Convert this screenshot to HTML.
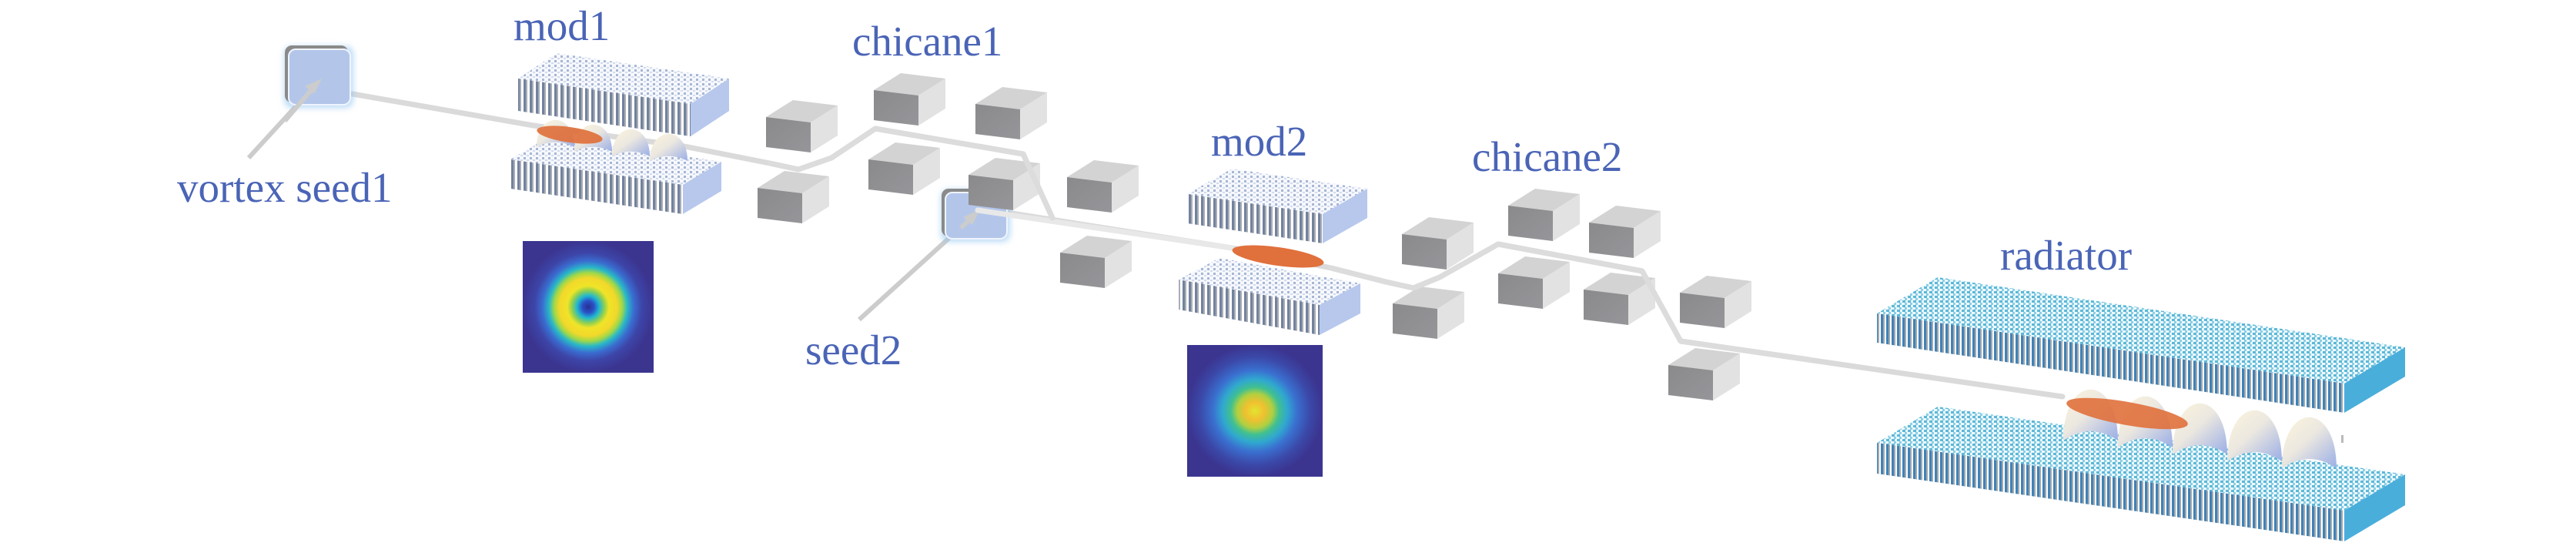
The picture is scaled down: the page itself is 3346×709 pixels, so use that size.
<!DOCTYPE html>
<html><head><meta charset="utf-8"><style>
html,body{margin:0;padding:0;background:#fff;}
svg{display:block;}
.lb{font-family:"Liberation Serif",serif;font-size:55px;fill:#4a64b6;}
</style></head><body>
<svg id="s" width="3346" height="709" viewBox="0 0 3346 709" xmlns="http://www.w3.org/2000/svg">
<defs>
<pattern id="stM" width="8" height="10" patternUnits="userSpaceOnUse"><rect width="8" height="10" fill="#fff"/><rect width="3" height="10" fill="#72829e"/><rect x="3" width="2" height="10" fill="#a9adb6"/></pattern>
<pattern id="grM" width="8" height="6" patternUnits="userSpaceOnUse"><rect width="8" height="6" fill="#f6f8fc"/><rect width="3" height="3" fill="#a8b6d4"/><rect x="4" y="3" width="3" height="2" fill="#d2dbee"/></pattern>
<pattern id="stR" width="7" height="10" patternUnits="userSpaceOnUse"><rect width="7" height="10" fill="#fff"/><rect width="3" height="10" fill="#3f82b8"/><rect x="3" width="2" height="10" fill="#a4a8ac"/></pattern>
<pattern id="grR" width="7" height="6" patternUnits="userSpaceOnUse"><rect width="7" height="6" fill="#eef8fb"/><rect width="4" height="3" fill="#5cb8d8"/><rect x="3" y="3" width="3" height="3" fill="#8ccfe6"/></pattern>
<radialGradient id="ring" cx="0.5" cy="0.5" r="0.5">
<stop offset="0" stop-color="#283090"/><stop offset="0.09" stop-color="#2a50c8"/><stop offset="0.17" stop-color="#20b8d0"/><stop offset="0.25" stop-color="#90d050"/><stop offset="0.32" stop-color="#f0e428"/><stop offset="0.44" stop-color="#f2d82a"/><stop offset="0.52" stop-color="#a0d848"/><stop offset="0.6" stop-color="#28b8c8"/><stop offset="0.7" stop-color="#3a6cd0"/><stop offset="0.82" stop-color="#3d45a8"/><stop offset="1" stop-color="#3b3590"/></radialGradient>
<radialGradient id="gau" cx="0.5" cy="0.5" r="0.5">
<stop offset="0" stop-color="#e2e430"/><stop offset="0.14" stop-color="#f0c030"/><stop offset="0.26" stop-color="#b0d040"/><stop offset="0.36" stop-color="#40c090"/><stop offset="0.48" stop-color="#30a8d0"/><stop offset="0.62" stop-color="#3a70d0"/><stop offset="0.82" stop-color="#3b48a8"/><stop offset="1" stop-color="#3b3590"/></radialGradient>
<linearGradient id="arch" x1="0" y1="0" x2="1" y2="1"><stop offset="0" stop-color="#fbf4dc"/><stop offset="0.45" stop-color="#ece8e0"/><stop offset="1" stop-color="#9aaee6"/></linearGradient>
<linearGradient id="cf" x1="0" y1="0" x2="1" y2="1"><stop offset="0" stop-color="#8a8a8c"/><stop offset="1" stop-color="#96969a"/></linearGradient>
<filter id="glow" x="-30%" y="-30%" width="160%" height="160%"><feGaussianBlur stdDeviation="4"/></filter>
</defs>
<g id="g"></g>
<text class="lb" x="230" y="262">vortex seed1</text>
<text class="lb" x="667" y="52">mod1</text>
<text class="lb" x="1107" y="72">chicane1</text>
<text class="lb" x="1046" y="473">seed2</text>
<text class="lb" x="1573" y="202">mod2</text>
<text class="lb" x="1912" y="222">chicane2</text>
<text class="lb" x="2598" y="350">radiator</text>
</svg>
<script>
var h='';
function P(a){return a.map(function(p){return p[0]+','+p[1]}).join(' ');}
function box(x,y,Lx,Ly,Dx,Dy,H,top,front,right){
 var FTL=[x,y],FTR=[x+Lx,y+Ly],BTR=[x+Lx+Dx,y+Ly+Dy],BTL=[x+Dx,y+Dy],FBL=[x,y+H],FBR=[x+Lx,y+Ly+H],BBR=[x+Lx+Dx,y+Ly+Dy+H];
 h+='<polygon points="'+P([FTL,FTR,BTR,BTL])+'" fill="'+top+'"/>';
 h+='<polygon points="'+P([FTL,FTR,FBR,FBL])+'" fill="'+front+'"/>';
 h+='<polygon points="'+P([FTR,BTR,BBR,FBR])+'" fill="'+right+'"/>';
}
function cube(x,y){box(x,y+22,58,7,35,-22,39,'#d3d3d3','url(#cf)','#e2e2e2');}
function line(pts,w,c){h+='<polyline points="'+P(pts)+'" fill="none" stroke="'+(c||'#dadada')+'" stroke-width="'+(w||7)+'" stroke-linejoin="round" stroke-linecap="round"/>';}
function mirror(x,y,w,hh){
 h+='<rect x="'+(x-4)+'" y="'+(y-2)+'" width="'+(w+8)+'" height="'+(hh+6)+'" rx="10" fill="#8fc4f0" opacity="0.6" filter="url(#glow)"/>';
 h+='<rect x="'+(x-3)+'" y="'+(y-3)+'" width="'+w+'" height="'+hh+'" rx="9" fill="#8a8a8a"/>';
 h+='<rect x="'+(x+2)+'" y="'+(y+2)+'" width="'+(w-2)+'" height="'+(hh-2)+'" rx="9" fill="#b3c6ea" stroke="#f0f4ff" stroke-width="2"/>';
}
function arches(x0,yb0,n,w,ht,dy){
 for(var i=0;i<n;i++){
  var x=x0+i*w,yb=yb0+i*dy;
  h+='<path d="M'+x+','+yb+' C'+x+','+(yb-1.3*ht)+' '+(x+w)+','+(yb-1.3*ht)+' '+(x+w)+','+yb+' Q'+(x+w*0.5)+','+(yb-0.35*ht)+' '+x+','+yb+'Z" fill="url(#arch)"/>';
 }
}
// beam
line([[458,122],[693,163],[889,190],[1000,212],[1037,220],[1080,205],[1137,167],[1329,200],[1367,283]]);
line([[1276,271],[1600,322],[1729,348],[1800,366],[1836,374],[1870,360],[1946,317],[2133,352],[2183,443],[2679,515]]);
// arrows
h+='<line x1="323" y1="205" x2="410" y2="110" stroke="#cccccc" stroke-width="6"/>';
h+='<line x1="1116" y1="415" x2="1265" y2="280" stroke="#cccccc" stroke-width="6"/>';
mirror(373,62,82,74);
mirror(1226,248,82,62);
h+='<line x1="370" y1="157" x2="412" y2="108" stroke="#cccccc" stroke-width="6"/><polygon points="418,102 396,112 408,122" fill="#cccccc"/>';
h+='<line x1="1248" y1="296" x2="1266" y2="279" stroke="#cccccc" stroke-width="6"/><polygon points="1273,272 1251,282 1263,292" fill="#cccccc"/>';
line([[1270,273],[1600,322]],7,'#e8e8e8');
// mod1
box(673,102,224,33,50,-33,42,'url(#grM)','url(#stM)','#b7c8ec');
box(663,207,224,33,50,-30,38,'url(#grM)','url(#stM)','#b7c8ec');
arches(697,191,4,49,36,6);
h+='<ellipse cx="740" cy="175" rx="43" ry="10" transform="rotate(8 740 175)" fill="#e0703c" opacity="0.92"/>';
// chicane1 cubes
[[995,130],[1135,95],[1267,113],[984,222],[1128,185],[1258,205],[1386,208],[1377,306]].forEach(function(c){cube(c[0],c[1]);});
line([[1000,212],[1037,220],[1080,205],[1137,167],[1329,200],[1367,283]],7,'#dcdcdc');
// mod2
box(1542,252,176,26,58,-33,38,'url(#grM)','url(#stM)','#b7c8ec');
box(1531,363,183,33,53,-28,39,'url(#grM)','url(#stM)','#b7c8ec');
h+='<ellipse cx="1660" cy="333" rx="60" ry="12" transform="rotate(8 1660 333)" fill="#e0703c"/>';
// chicane2 cubes
[[1821,282],[1959,245],[2064,267],[1809,372],[1946,333],[2057,354],[2182,358],[2167,452]].forEach(function(c){cube(c[0],c[1]);});
line([[1729,348],[1800,366],[1836,374],[1870,360],[1946,317],[2133,352],[2183,443],[2350,467]],7,'#dcdcdc');
// radiator
box(2438,407,607,91,79,-47,38,'url(#grR)','url(#stR)','#4aaedb');
box(2438,575,607,88,79,-47,40,'url(#grR)','url(#stR)','#4aaedb');
arches(2680,572,5,71,68,9);
h+='<ellipse cx="2763" cy="537" rx="80" ry="15" transform="rotate(10 2763 537)" fill="#e0703c" opacity="0.9"/>';
h+='<rect x="3041" y="565" width="3" height="10" fill="#bbb"/>';
// images
h+='<rect x="679" y="313" width="170" height="171" fill="url(#ring)"/>';
h+='<rect x="1542" y="448" width="176" height="171" fill="url(#gau)"/>';
document.getElementById('g').innerHTML=h;
</script>
</body></html>
